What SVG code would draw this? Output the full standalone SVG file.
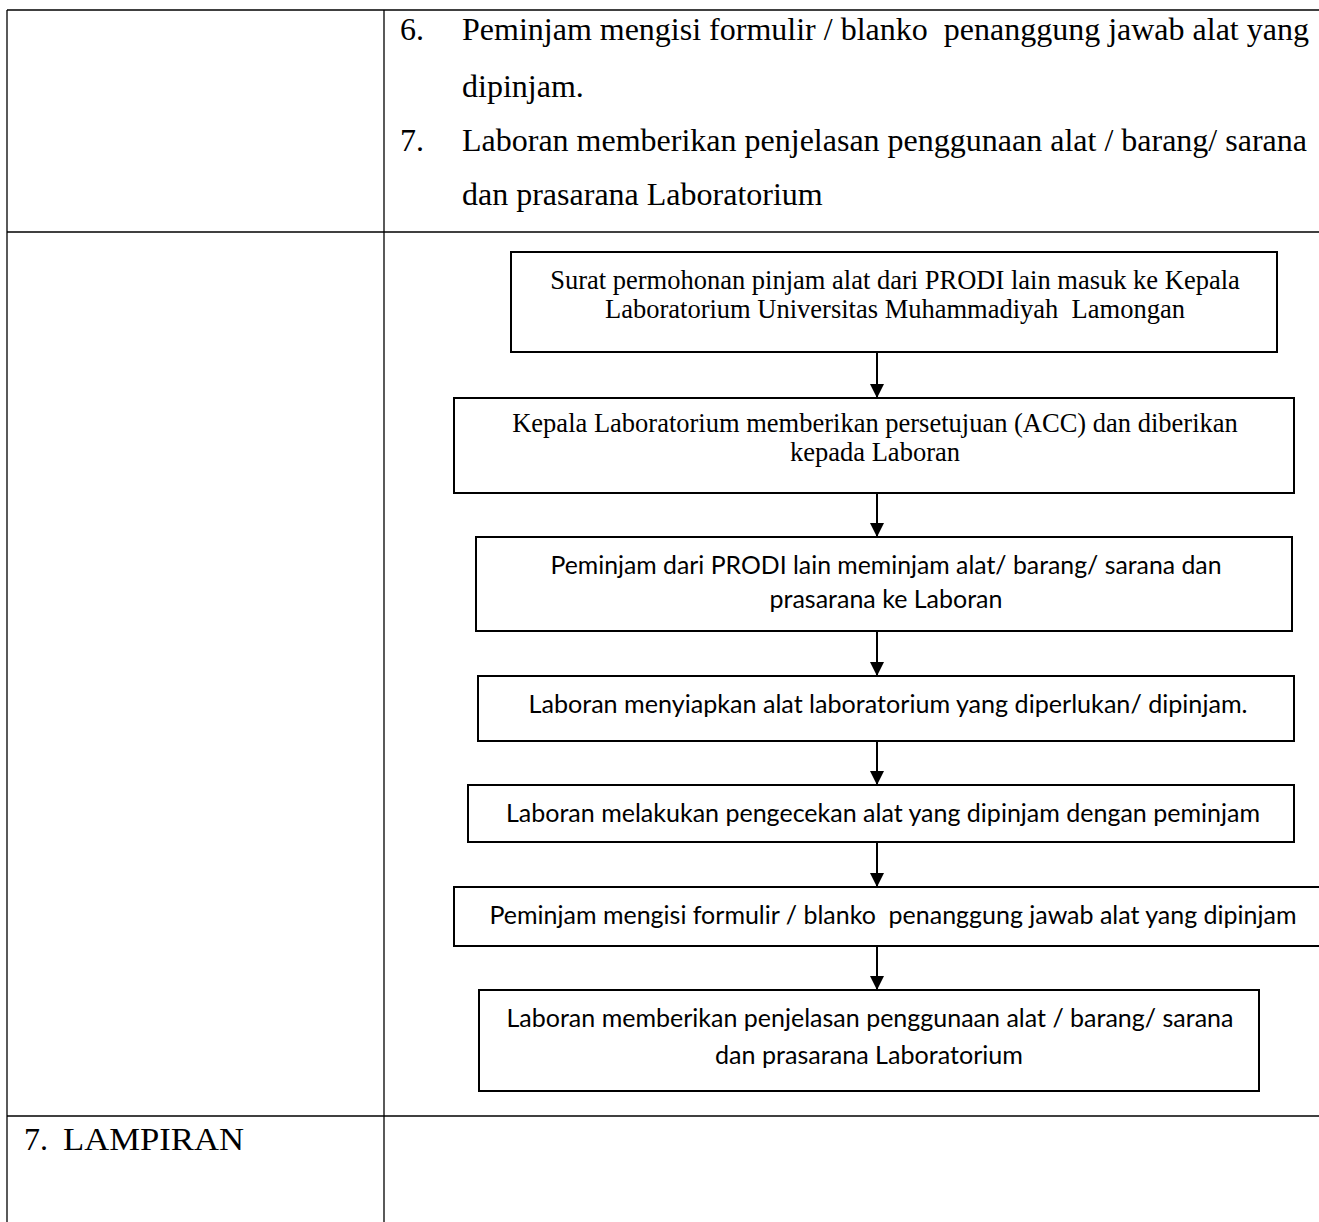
<svg xmlns="http://www.w3.org/2000/svg" width="1319" height="1222" viewBox="0 0 1319 1222">
<style>
text{white-space:pre}
.tbl{stroke:#000;stroke-width:1.3;fill:none}
.box{fill:#fff;stroke:#000;stroke-width:2}
.serif{font-family:"Liberation Serif","Times New Roman",serif;fill:#000}
.big{font-size:32px}
.mid{font-size:26.5px;text-anchor:middle}
.sans{font-family:Lato,"Open Sans",sans-serif;font-size:25px;fill:#000;text-anchor:middle}
.conn{stroke:#000;stroke-width:2;fill:none;marker-end:url(#ah)}
</style>
<defs>
<marker id="ah" markerWidth="14" markerHeight="16" viewBox="0 0 14 16" refX="14" refY="7" orient="auto" markerUnits="userSpaceOnUse">
<path d="M0,0 L14,7 L0,14 Z" fill="#000"/>
</marker>
</defs>
<rect width="1319" height="1222" fill="#fff"/>
<g id="table">
<line class="tbl" x1="7" y1="10" x2="1319" y2="10"/>
<line class="tbl" x1="7" y1="232" x2="1319" y2="232"/>
<line class="tbl" x1="7" y1="1116" x2="1319" y2="1116"/>
<line class="tbl" x1="7" y1="10" x2="7" y2="1222"/>
<line class="tbl" x1="384" y1="10" x2="384" y2="1222"/>
</g>
<g id="steps-text">
<text class="serif big" x="400" y="40">6.</text>
<text class="serif big" x="462" y="40">Peminjam mengisi formulir / blanko  penanggung jawab alat yang</text>
<text class="serif big" x="462" y="97">dipinjam.</text>
<text class="serif big" x="400" y="151">7.</text>
<text class="serif big" x="462" y="151">Laboran memberikan penjelasan penggunaan alat / barang/ sarana</text>
<text class="serif big" x="462" y="205">dan prasarana Laboratorium</text>
</g>
<g id="lampiran">
<text class="serif big" x="24" y="1150">7.</text>
<text class="serif big" x="63" y="1150" textLength="181" lengthAdjust="spacingAndGlyphs">LAMPIRAN</text>
</g>
<g id="connectors">
<line class="conn" x1="877" y1="352" x2="877" y2="398"/>
<line class="conn" x1="877" y1="493" x2="877" y2="537"/>
<line class="conn" x1="877" y1="631" x2="877" y2="676"/>
<line class="conn" x1="877" y1="741" x2="877" y2="785"/>
<line class="conn" x1="877" y1="842" x2="877" y2="887"/>
<line class="conn" x1="877" y1="946" x2="877" y2="990"/>
</g>
<g id="node1">
<rect class="box" x="511" y="252" width="766" height="100"/>
<text class="serif mid" x="895" y="289">Surat permohonan pinjam alat dari PRODI lain masuk ke Kepala</text>
<text class="serif mid" x="895" y="318">Laboratorium Universitas Muhammadiyah  Lamongan</text>
</g>
<g id="node2">
<rect class="box" x="454" y="398" width="840" height="95"/>
<text class="serif mid" x="875" y="432">Kepala Laboratorium memberikan persetujuan (ACC) dan diberikan</text>
<text class="serif mid" x="875" y="461">kepada Laboran</text>
</g>
<g id="node3">
<rect class="box" x="476" y="537" width="816" height="94"/>
<text class="sans" x="886" y="574" textLength="671" lengthAdjust="spacingAndGlyphs">Peminjam dari PRODI lain meminjam alat/ barang/ sarana dan</text>
<text class="sans" x="886" y="608" textLength="233" lengthAdjust="spacingAndGlyphs">prasarana ke Laboran</text>
</g>
<g id="node4">
<rect class="box" x="478" y="676" width="816" height="65"/>
<text class="sans" x="888" y="713" textLength="719" lengthAdjust="spacingAndGlyphs">Laboran menyiapkan alat laboratorium yang diperlukan/ dipinjam.</text>
</g>
<g id="node5">
<rect class="box" x="468" y="785" width="826" height="57"/>
<text class="sans" x="883" y="822" textLength="754" lengthAdjust="spacingAndGlyphs">Laboran melakukan pengecekan alat yang dipinjam dengan peminjam</text>
</g>
<g id="node6">
<rect class="box" x="454" y="887" width="880" height="59"/>
<text class="sans" x="893" y="924" textLength="807" lengthAdjust="spacingAndGlyphs">Peminjam mengisi formulir / blanko  penanggung jawab alat yang dipinjam</text>
</g>
<g id="node7">
<rect class="box" x="479" y="990" width="780" height="101"/>
<text class="sans" x="870" y="1027" textLength="727" lengthAdjust="spacingAndGlyphs">Laboran memberikan penjelasan penggunaan alat / barang/ sarana</text>
<text class="sans" x="869" y="1064" textLength="308" lengthAdjust="spacingAndGlyphs">dan prasarana Laboratorium</text>
</g>
</svg>
